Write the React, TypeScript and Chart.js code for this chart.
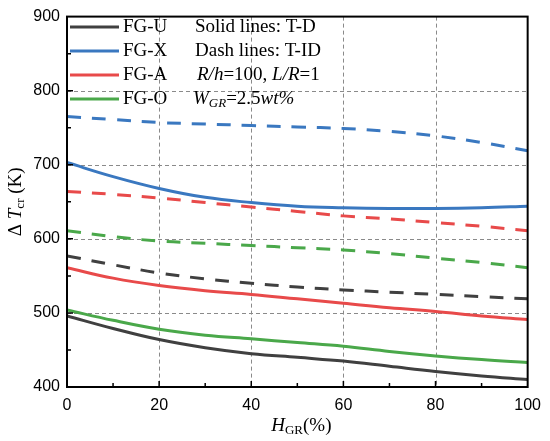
import { useEffect, useRef } from 'react';
import { Chart, registerables } from 'chart.js';

Chart.register(...registerables);

// H_GR (%)
const hgr = [0, 10, 20, 30, 40, 50, 60, 70, 80, 90, 100];

// solid lines: T-D
const fgU_TD = [496, 479, 464, 453, 445, 440, 435, 428, 421, 415, 410];
const fgX_TD = [703, 684, 668, 656, 649, 644, 642, 641, 641, 642, 644];
const fgA_TD = [561, 547, 537, 530, 525, 519, 513, 507, 502, 496, 491];
const fgO_TD = [504, 490, 478, 470, 465, 460, 455, 448, 442, 437, 433];

// dash lines: T-ID
const fgU_TID = [577, 565, 554, 546, 540, 535, 531, 528, 525, 522, 519];
const fgX_TID = [765, 761, 757, 755, 753, 751, 749, 745, 739, 730, 719];
const fgA_TID = [664, 660, 655, 649, 643, 637, 631, 627, 622, 617, 611];
const fgO_TID = [611, 603, 597, 594, 591, 588, 585, 580, 574, 568, 561];

const labels = ['FG-U', 'FG-X', 'FG-A', 'FG-O'];
const colors = ['#404040', '#3a78c0', '#e84a4a', '#4aa84a'];
const notes = ['Solid lines: T-D', 'Dash lines: T-ID'];

const SERIF = '"Liberation Serif", "Times New Roman", serif';

type Seg = { t: string; i?: boolean; sub?: boolean };

function richWidth(ctx: CanvasRenderingContext2D, segs: Seg[], size: number) {
  let w = 0;
  segs.forEach((s) => {
    ctx.font = `${s.i ? 'italic ' : ''}${s.sub ? Math.round(size * 0.7) : size}px ${SERIF}`;
    w += ctx.measureText(s.t).width;
  });
  return w;
}

function drawRich(ctx: CanvasRenderingContext2D, x: number, y: number, segs: Seg[], size: number) {
  let cx = x;
  segs.forEach((s) => {
    ctx.font = `${s.i ? 'italic ' : ''}${s.sub ? Math.round(size * 0.7) : size}px ${SERIF}`;
    ctx.fillText(s.t, cx, s.sub ? y + 5 : y);
    cx += ctx.measureText(s.t).width;
  });
}

const decor = {
  id: 'decor',
  beforeDatasetsDraw(chart: Chart) {
    const { ctx, chartArea: a } = chart;
    const xs = chart.scales.x;
    const ys = chart.scales.y;
    // dashed grid
    ctx.save();
    ctx.strokeStyle = '#8a8a8a';
    ctx.lineWidth = 1;
    ctx.setLineDash([4, 3]);
    ctx.beginPath();
    for (let v = 20; v < 100; v += 20) {
      const px = Math.round(xs.getPixelForValue(v)) + 0.5;
      ctx.moveTo(px, a.top);
      ctx.lineTo(px, a.bottom);
    }
    for (let v = 500; v < 900; v += 100) {
      const py = Math.round(ys.getPixelForValue(v)) + 0.5;
      ctx.moveTo(a.left, py);
      ctx.lineTo(a.right, py);
    }
    ctx.stroke();
    ctx.restore();
  },
  afterDraw(chart: Chart) {
    const { ctx, chartArea: a } = chart;
    const xs = chart.scales.x;
    const ys = chart.scales.y;
    ctx.save();

    // frame
    ctx.strokeStyle = '#000';
    ctx.lineWidth = 2;
    ctx.strokeRect(a.left, a.top, a.right - a.left, a.bottom - a.top);

    // inward ticks
    ctx.lineWidth = 1.5;
    ctx.beginPath();
    for (let v = 10; v < 100; v += 10) {
      const px = xs.getPixelForValue(v);
      const len = v % 20 === 0 ? 6 : 4;
      ctx.moveTo(px, a.bottom);
      ctx.lineTo(px, a.bottom - len);
    }
    for (let v = 450; v < 900; v += 50) {
      const py = ys.getPixelForValue(v);
      const len = v % 100 === 0 ? 6 : 4;
      ctx.moveTo(a.left, py);
      ctx.lineTo(a.left + len, py);
    }
    ctx.stroke();

    // legend
    ctx.fillStyle = '#000';
    ctx.textBaseline = 'middle';
    ctx.textAlign = 'left';
    const rows = [27, 51, 75, 99];
    labels.forEach((l, k) => {
      ctx.strokeStyle = colors[k];
      ctx.lineWidth = 3;
      ctx.beginPath();
      ctx.moveTo(70, rows[k]);
      ctx.lineTo(119, rows[k]);
      ctx.stroke();
      ctx.font = `19px ${SERIF}`;
      ctx.fillText(l, 123, rows[k]);
    });

    // notes
    ctx.font = `19px ${SERIF}`;
    ctx.fillText(notes[0], 195, rows[0]);
    ctx.fillText(notes[1], 195, rows[1]);
    drawRich(ctx, 197, rows[2], [
      { t: 'R/h', i: true },
      { t: '=100, ' },
      { t: 'L/R', i: true },
      { t: '=1' },
    ], 19);
    drawRich(ctx, 193, rows[3], [
      { t: 'W', i: true },
      { t: 'GR', i: true, sub: true },
      { t: '=2.5' },
      { t: 'wt%', i: true },
    ], 19);

    // x title
    const xt: Seg[] = [{ t: 'H', i: true }, { t: 'GR', sub: true }, { t: '(%)' }];
    const xw = richWidth(ctx, xt, 19);
    drawRich(ctx, (a.left + a.right) / 2 - xw / 2 + 4, 426, xt, 19);

    // y title
    const yt: Seg[] = [{ t: 'Δ ' }, { t: 'T', i: true }, { t: 'cr', sub: true }, { t: ' (K)' }];
    const yw = richWidth(ctx, yt, 19);
    ctx.translate(16, (a.top + a.bottom) / 2);
    ctx.rotate(-Math.PI / 2);
    drawRich(ctx, -yw / 2, 0, yt, 19);

    ctx.restore();
  },
};

const toXY = (ys: number[]) => hgr.map((x, i) => ({ x, y: ys[i] }));

export default function App() {
  const canvasRef = useRef<HTMLCanvasElement>(null);
  const chartRef = useRef<Chart | null>(null);

  useEffect(() => {
    if (!canvasRef.current) return;
    chartRef.current?.destroy();

    const solid = [fgU_TD, fgX_TD, fgA_TD, fgO_TD];
    const dash = [fgU_TID, fgX_TID, fgA_TID, fgO_TID];

    const datasets = [
      ...dash.map((d, k) => ({
        label: labels[k] + ' T-ID',
        data: toXY(d),
        borderColor: colors[k],
        borderWidth: 3,
        borderDash: [14, 11],
        pointRadius: 0,
        tension: 0.4,
      })),
      ...solid.map((d, k) => ({
        label: labels[k],
        data: toXY(d),
        borderColor: colors[k],
        borderWidth: 3,
        pointRadius: 0,
        tension: 0.4,
      })),
    ];

    const tickFont = { family: '"Liberation Sans", Arial, sans-serif', size: 16 };

    chartRef.current = new Chart(canvasRef.current, {
      type: 'line',
      data: { datasets },
      options: {
        responsive: false,
        animation: false,
        layout: { padding: { top: 13, right: 17, left: 0, bottom: 0 } },
        scales: {
          x: {
            type: 'linear',
            min: 0,
            max: 100,
            afterFit: (s: any) => {
              s.height = 54;
            },
            ticks: { stepSize: 20, color: '#000', font: tickFont, padding: 9 },
            grid: { display: false, drawTicks: false },
            border: { display: false },
          },
          y: {
            min: 400,
            max: 900,
            afterFit: (s: any) => {
              s.width = 67;
            },
            ticks: { stepSize: 100, color: '#000', font: tickFont, padding: 7 },
            grid: { display: false, drawTicks: false },
            border: { display: false },
          },
        },
        plugins: {
          legend: { display: false },
          tooltip: { enabled: false },
        },
      },
      plugins: [decor],
    });

    return () => {
      chartRef.current?.destroy();
    };
  }, []);

  return (
    <div style={{ position: 'absolute', left: 0, top: 0, width: 550, height: 441, background: '#fff' }}>
      <canvas ref={canvasRef} width={550} height={441} />
    </div>
  );
}
